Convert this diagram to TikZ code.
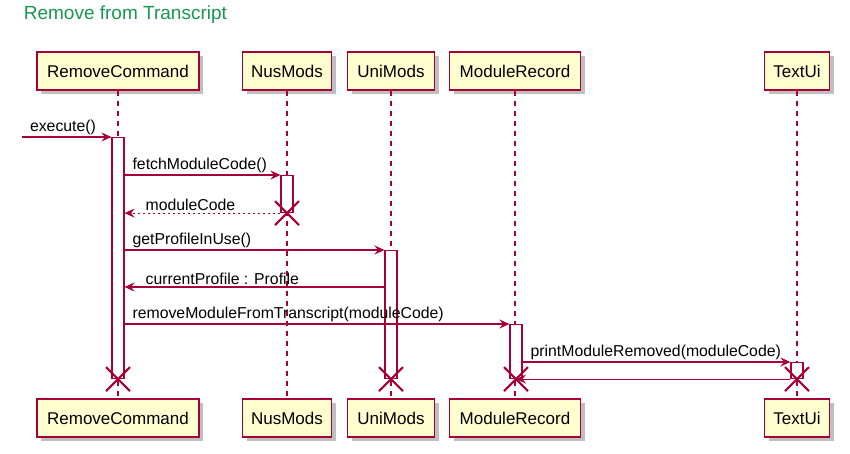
\documentclass[tikz,border=0pt]{standalone}
\usepackage{fontspec}
\setmainfont{Liberation Sans}
\usetikzlibrary{positioning,arrows.meta,shadows,shapes.misc}
\definecolor{umlred}{HTML}{A80036}
\definecolor{umlyellow}{HTML}{FEFECE}
\definecolor{titlegreen}{RGB}{25,150,80}

\begin{document}
\begin{tikzpicture}[x=1pt, y=-1pt, >={Stealth[length=10pt,width=9pt,inset=3.5pt]},
        line width=1.1pt,
        part/.style={rectangle, draw=umlred, fill=umlyellow, line width=1.6pt,
            minimum height=38pt, font=\fontsize{17}{20}\selectfont,
            drop shadow={shadow xshift=4pt, shadow yshift=-4pt, fill=black, opacity=.25}},
        act/.style={rectangle, draw=umlred, fill=white, line width=1.1pt,
            minimum width=12pt, inner sep=0pt, anchor=north},
        life/.style={umlred, dash pattern=on 5pt off 5pt},
        msg/.style={umlred, ->},
        reply/.style={umlred, ->, dash pattern=on 2.5pt off 2.5pt},
        lbl/.style={text=black, font=\fontsize{15.8}{18}\selectfont, inner sep=1.5pt},
        kill/.style={draw=umlred, cross out, line width=2pt, minimum size=22pt, inner sep=0pt}]
            \useasboundingbox (0,0) rectangle (850,454);
            \node [anchor=west, text=titlegreen, font=\fontsize{19}{22}\selectfont] (title) at (20,15) {Remove from Transcript};

            % participants, top and bottom
            \node [part, minimum width=162pt] (rc) at (118,71) {RemoveCommand};
            \node [part, minimum width=89pt] (nus) at (287,71) {NusMods};
            \node [part, minimum width=87pt] (uni) at (391,71) {UniMods};
            \node [part, minimum width=131pt] (mr) at (515,71) {ModuleRecord};
            \node [part, minimum width=65pt] (ui) at (797,71) {TextUi};
            \node [part, minimum width=162pt] (rcb) at (118,418) {RemoveCommand};
            \node [part, minimum width=89pt] (nusb) at (287,418) {NusMods};
            \node [part, minimum width=87pt] (unib) at (391,418) {UniMods};
            \node [part, minimum width=131pt] (mrb) at (515,418) {ModuleRecord};
            \node [part, minimum width=65pt] (uib) at (797,418) {TextUi};

            \draw [life] (rc) -- (rcb);
            \draw [life] (nus) -- (nusb);
            \draw [life] (uni) -- (unib);
            \draw [life] (mr) -- (mrb);
            \draw [life] (ui) -- (uib);

            % activations
            \node [act, minimum height=241pt] (rcact) at (118,137) {};
            \node [act, minimum height=37pt] (nusact) at (287,175) {};
            \node [act, minimum height=128pt] (uniact) at (391,250) {};
            \node [act, minimum height=54pt] (mract) at (516,324) {};
            \node [act, minimum height=16pt] (uiact) at (797,362) {};

            % destroyed
            \node [kill] (xrc) at (rcact.south) {};
            \node [kill] (xnus) at (nusact.south) {};
            \node [kill] (xuni) at (uniact.south) {};
            \node [kill] (xmr) at (mract.south) {};
            \node [kill] (xui) at (uiact.south) {};

            % messages
            \coordinate (in) at (22,137);
            \coordinate (cp) at (0,287);
            \draw [msg] (in) -- (rcact.north west)
                node [lbl, pos=0, anchor=south west, xshift=6pt] {execute()};
            \draw [msg] (rcact.east |- nusact.north) -- (nusact.north west)
                node [lbl, pos=0, anchor=south west, xshift=6pt] {fetchModuleCode()};
            \draw [reply] (nusact.south west) -- (rcact.east |- nusact.south)
                node [lbl, pos=1, anchor=south west, xshift=19pt] {moduleCode};
            \draw [msg] (rcact.east |- uniact.north) -- (uniact.north west)
                node [lbl, pos=0, anchor=south west, xshift=6pt] {getProfileInUse()};
            \draw [msg] (uniact.west |- cp) -- (rcact.east |- cp)
                node [lbl, pos=1, anchor=south west, xshift=19pt] {currentProfile : Profile};
            \draw [msg] (rcact.east |- mract.north) -- (mract.north west)
                node [lbl, pos=0, anchor=south west, xshift=6pt] {removeModuleFromTranscript(moduleCode)};
            \draw [msg] (mract.east |- uiact.north) -- (uiact.north west)
                node [lbl, pos=0, anchor=south west, xshift=6pt] {printModuleRemoved(moduleCode)};
            \draw [msg] (uiact.south west) -- (xmr.center);
\end{tikzpicture}
\end{document}
